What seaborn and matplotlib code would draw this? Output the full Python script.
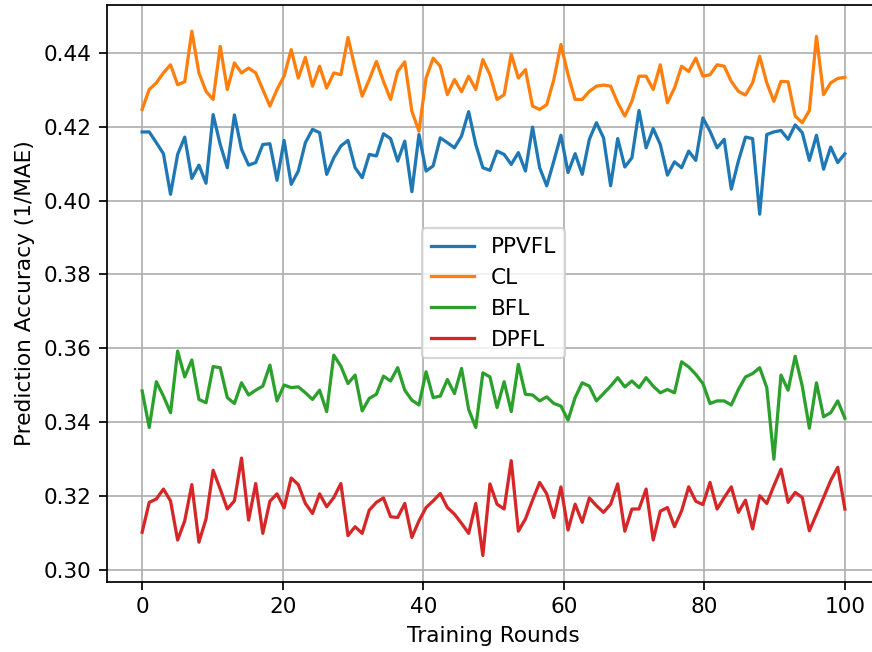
import numpy as np
import pandas as pd
import matplotlib
matplotlib.use("Agg")
import matplotlib.pyplot as plt
import seaborn as sns

# Accuracy per training round (100 evaluations spread over rounds 0..100)
ppvfl = [0.4186, 0.4186, 0.4157, 0.4127, 0.4017, 0.4125, 0.4172, 0.4060, 0.4096, 0.4047,
         0.4233, 0.4152, 0.4089, 0.4232, 0.4139, 0.4096, 0.4103, 0.4152, 0.4154, 0.4055,
         0.4163, 0.4044, 0.4080, 0.4157, 0.4193, 0.4184, 0.4071, 0.4116, 0.4148, 0.4163,
         0.4089, 0.4062, 0.4125, 0.4121, 0.4181, 0.4168, 0.4107, 0.4161, 0.4024, 0.4179,
         0.4080, 0.4094, 0.4170, 0.4157, 0.4143, 0.4175, 0.4241, 0.4152, 0.4089, 0.4082,
         0.4134, 0.4125, 0.4098, 0.4130, 0.4080, 0.4199, 0.4089, 0.4040, 0.4107, 0.4177,
         0.4076, 0.4127, 0.4071, 0.4166, 0.4211, 0.4170, 0.4040, 0.4168, 0.4091, 0.4116,
         0.4244, 0.4143, 0.4195, 0.4152, 0.4069, 0.4105, 0.4089, 0.4134, 0.4109, 0.4224,
         0.4188, 0.4143, 0.4166, 0.4031, 0.4107, 0.4172, 0.4168, 0.3963, 0.4179, 0.4186,
         0.4190, 0.4166, 0.4205, 0.4184, 0.4109, 0.4177, 0.4085, 0.4145, 0.4103, 0.4127]

cl = [0.4247, 0.4301, 0.4319, 0.4346, 0.4368, 0.4314, 0.4322, 0.4459, 0.4346, 0.4296,
      0.4274, 0.4418, 0.4301, 0.4373, 0.4346, 0.4359, 0.4346, 0.4301, 0.4256, 0.4301,
      0.4337, 0.4409, 0.4332, 0.4388, 0.4310, 0.4364, 0.4305, 0.4346, 0.4341, 0.4442,
      0.4359, 0.4283, 0.4328, 0.4377, 0.4323, 0.4274, 0.4350, 0.4376, 0.4242, 0.4188,
      0.4332, 0.4386, 0.4364, 0.4287, 0.4328, 0.4295, 0.4337, 0.4301, 0.4382, 0.4341,
      0.4274, 0.4287, 0.4397, 0.4332, 0.4355, 0.4256, 0.4247, 0.4260, 0.4328, 0.4423,
      0.4341, 0.4274, 0.4274, 0.4296, 0.4310, 0.4313, 0.4310, 0.4265, 0.4229, 0.4269,
      0.4337, 0.4337, 0.4301, 0.4368, 0.4265, 0.4305, 0.4364, 0.4350, 0.4386, 0.4337,
      0.4341, 0.4368, 0.4364, 0.4323, 0.4296, 0.4286, 0.4319, 0.4391, 0.4319, 0.4269,
      0.4323, 0.4322, 0.4229, 0.4211, 0.4244, 0.4445, 0.4287, 0.4319, 0.4331, 0.4334]

bfl = [0.3484, 0.3385, 0.3509, 0.3470, 0.3425, 0.3592, 0.3522, 0.3568, 0.3461, 0.3452,
       0.3550, 0.3547, 0.3466, 0.3450, 0.3506, 0.3473, 0.3486, 0.3497, 0.3554, 0.3457,
       0.3500, 0.3493, 0.3495, 0.3479, 0.3461, 0.3486, 0.3428, 0.3581, 0.3551, 0.3504,
       0.3527, 0.3430, 0.3464, 0.3475, 0.3524, 0.3511, 0.3547, 0.3486, 0.3459, 0.3446,
       0.3536, 0.3466, 0.3470, 0.3515, 0.3477, 0.3545, 0.3434, 0.3385, 0.3533, 0.3522,
       0.3439, 0.3509, 0.3428, 0.3556, 0.3475, 0.3473, 0.3457, 0.3468, 0.3450, 0.3443,
       0.3405, 0.3466, 0.3506, 0.3497, 0.3457, 0.3477, 0.3497, 0.3520, 0.3495, 0.3511,
       0.3493, 0.3520, 0.3497, 0.3479, 0.3488, 0.3479, 0.3563, 0.3549, 0.3529, 0.3504,
       0.3450, 0.3457, 0.3457, 0.3446, 0.3488, 0.3522, 0.3531, 0.3547, 0.3493, 0.3299,
       0.3527, 0.3486, 0.3578, 0.3497, 0.3383, 0.3506, 0.3414, 0.3425, 0.3457, 0.3410]

dpfl = [0.3101, 0.3182, 0.3191, 0.3218, 0.3186, 0.3080, 0.3132, 0.3230, 0.3074, 0.3137,
        0.3269, 0.3218, 0.3164, 0.3186, 0.3302, 0.3134, 0.3233, 0.3098, 0.3185, 0.3205,
        0.3167, 0.3248, 0.3230, 0.3179, 0.3152, 0.3205, 0.3170, 0.3195, 0.3233, 0.3092,
        0.3116, 0.3098, 0.3161, 0.3182, 0.3194, 0.3143, 0.3141, 0.3179, 0.3087, 0.3132,
        0.3168, 0.3186, 0.3206, 0.3168, 0.3150, 0.3125, 0.3098, 0.3179, 0.3038, 0.3232,
        0.3177, 0.3164, 0.3295, 0.3104, 0.3137, 0.3188, 0.3236, 0.3205, 0.3141, 0.3224,
        0.3107, 0.3177, 0.3128, 0.3194, 0.3173, 0.3155, 0.3177, 0.3232, 0.3104, 0.3164,
        0.3164, 0.3218, 0.3080, 0.3158, 0.3168, 0.3116, 0.3159, 0.3224, 0.3185, 0.3176,
        0.3236, 0.3164, 0.3195, 0.3224, 0.3155, 0.3188, 0.3110, 0.3200, 0.3179, 0.3227,
        0.3272, 0.3182, 0.3209, 0.3195, 0.3105, 0.3150, 0.3195, 0.3241, 0.3277, 0.3164]

methods = ["PPVFL", "CL", "BFL", "DPFL"]
rounds = np.linspace(0, 100, len(ppvfl))

# long format for seaborn
frames = []
for name, vals in zip(methods, [ppvfl, cl, bfl, dpfl]):
    frames.append(pd.DataFrame({"round": rounds, "acc": vals, "method": name}))
df = pd.concat(frames, ignore_index=True)

DPI = 156
fig = plt.figure(figsize=(872 / DPI, 652 / DPI), dpi=DPI)
ax = fig.add_axes([107 / 872, 1 - 581.7 / 652, (880 - 107) / 872, (581.7 - 5) / 652])

sns.lineplot(data=df, x="round", y="acc", hue="method", hue_order=methods,
             palette=sns.color_palette("tab10", 4), linewidth=1.5, ax=ax)

ax.set_xlabel("Training Rounds")
ax.set_ylabel("Prediction Accuracy (1/MAE)")
ax.grid(True)
sns.move_legend(ax, "center", title=None)

fig.savefig("out.png", dpi=DPI)
